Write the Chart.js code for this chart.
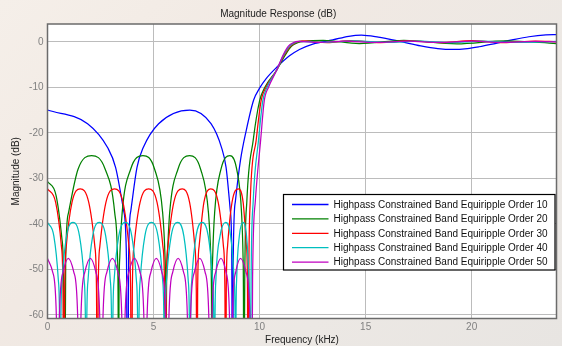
<!DOCTYPE html>
<html>
<head>
<meta charset="utf-8">
<script src="https://cdn.jsdelivr.net/npm/chart.js@4.4.1/dist/chart.umd.min.js"></script>
<style>
  html, body { margin: 0; padding: 0; }
  body {
    width: 562px; height: 346px; overflow: hidden;
    background: linear-gradient(135deg, #f5efe9 0%, #f1e9e3 35%, #ece8e4 70%, #e8e5e2 100%);
  }
  canvas { display: block; }
</style>
</head>
<body>
<canvas id="myChart" width="562" height="346"></canvas>
<script>
const freqTicks = [0, 5, 10, 15, 20];
const magTicks = [0, -10, -20, -30, -40, -50, -60];

const seriesLabels = [
  "Highpass Constrained Band Equiripple Order 10",
  "Highpass Constrained Band Equiripple Order 20",
  "Highpass Constrained Band Equiripple Order 30",
  "Highpass Constrained Band Equiripple Order 40",
  "Highpass Constrained Band Equiripple Order 50",
];
const seriesColors = ["#0000ff", "#008000", "#ff0000", "#00bfbf", "#bf00bf"];

// [frequency kHz, magnitude dB] (nulls pushed below the axis)
const order10 = [
  [0, -15], [1.89, -18], [2.84, -23.3], [3.21, -27.6], [3.59, -37.1], [3.723, -47.6], [3.78, -95],
  [3.824, -47.6], [3.93, -37.1], [4.22, -27.6], [4.51, -23.3], [5.24, -18], [6.71, -15], [7.71, -18], [8.21, -23.3],
  [8.42, -27.6], [8.62, -37.1], [8.69, -47.6], [8.72, -95],
  [8.76, -47], [8.86, -35], [9.1, -26], [9.37, -19.5], [9.72, -12.8], [10.0, -10.2], [10.31, -8.1], [10.81, -5.6],
  [11.41, -3.1], [11.88, -1.7], [12.51, -0.5], [13.45, 0.4], [14.2, 1.2], [14.8, 1.45], [15.6, 1.0],
  [16.6, 0.1], [17.6, -0.9], [18.4, -1.5], [19.1, -1.7], [19.8, -1.5], [20.35, -1.1], [21.1, -0.4],
  [21.9, 0.4], [22.7, 1.1], [23.5, 1.5], [24, 1.55],
];
const order20 = [
  [0, -30.7], [0.4, -33.7], [0.68, -43.3], [0.76, -52.8], [0.8, -95],
  [0.86, -47.1], [0.99, -37.6], [1.44, -28], [2.08, -25], [2.72, -28], [3.17, -37.6], [3.3, -47.1], [3.33, -57.6], [3.35, -95],
  [3.37, -57.6], [3.41, -47.1], [3.52, -37.6], [3.92, -28], [4.5, -25], [5.05, -28], [5.43, -37.6], [5.54, -47.1], [5.573, -57.6], [5.59, -95],
  [5.607, -57.6], [5.65, -47.1], [5.76, -37.6], [6.15, -28], [6.7, -25], [7.22, -28], [7.59, -37.6], [7.7, -47.1], [7.734, -57.6], [7.75, -95],
  [7.763, -57.6], [7.79, -47.1], [7.88, -37.6], [8.18, -28], [8.6, -25], [8.92, -28], [9.15, -37.6], [9.22, -47.1], [9.24, -57.6], [9.25, -95],
  [9.3, -52], [9.4, -35], [9.7, -21.6], [10.0, -13], [10.25, -10], [10.81, -6.2], [11.2, -3], [11.5, -1], [11.8, -0.2],
  [12.1, 0.1], [13, 0.3], [14.7, -0.4], [16.8, 0.3], [19.3, -0.45], [21.6, 0.2], [24, -0.4],
];
const order30 = [
  [0, -32.3], [0.385, -35.3], [0.655, -44.9], [0.73, -54.4], [0.77, -95],
  [0.81, -54.4], [0.885, -44.9], [1.155, -35.3], [1.54, -32.3], [1.945, -35.3], [2.23, -44.9], [2.31, -54.4], [2.35, -95],
  [2.39, -54.4], [2.47, -44.9], [2.755, -35.3], [3.16, -32.3], [3.56, -35.3], [3.84, -44.9], [3.92, -54.4], [3.96, -95],
  [4.0, -54.4], [4.08, -44.9], [4.365, -35.3], [4.77, -32.3], [5.165, -35.3], [5.44, -44.9], [5.52, -54.4], [5.56, -95],
  [5.6, -54.4], [5.68, -44.9], [5.955, -35.3], [6.35, -32.3], [6.7, -35.3], [6.945, -44.9], [7.015, -54.4], [7.05, -95],
  [7.08, -54.4], [7.15, -44.9], [7.375, -35.3], [7.7, -32.3], [8.05, -35.3], [8.295, -44.9], [8.365, -54.4], [8.4, -95],
  [8.43, -54.4], [8.49, -44.9], [8.7, -35.3], [9.0, -32.3], [9.225, -35.3], [9.38, -44.9], [9.43, -54.4], [9.45, -95],
  [9.49, -52], [9.56, -35], [9.84, -21.6], [10.07, -13], [10.3, -10], [10.81, -6.2], [11.15, -3], [11.45, -1], [11.7, -0.2],
  [12, 0.2], [13.2, -0.2], [14.3, 0.25], [15.7, -0.2], [17, 0.2], [18.6, -0.2], [20, 0.25], [21.5, -0.2], [23, 0.15], [24, 0],
];
const order40 = [
  [0, -39.7], [0.3, -42.7], [0.51, -52.3], [0.57, -61.8], [0.6, -95],
  [0.63, -61.8], [0.69, -52.3], [0.9, -42.7], [1.2, -39.7], [1.51, -42.7], [1.727, -52.3], [1.789, -61.8], [1.82, -95],
  [1.851, -61.8], [1.913, -52.3], [2.13, -42.7], [2.44, -39.7], [2.745, -42.7], [2.959, -52.3], [3.02, -61.8], [3.05, -95],
  [3.081, -61.8], [3.143, -52.3], [3.36, -42.7], [3.67, -39.7], [3.975, -42.7], [4.189, -52.3], [4.25, -61.8], [4.28, -95],
  [4.311, -61.8], [4.373, -52.3], [4.59, -42.7], [4.9, -39.7], [5.21, -42.7], [5.427, -52.3], [5.489, -61.8], [5.52, -95],
  [5.551, -61.8], [5.613, -52.3], [5.83, -42.7], [6.14, -39.7], [6.43, -42.7], [6.633, -52.3], [6.691, -61.8], [6.72, -95],
  [6.749, -61.8], [6.805, -52.3], [7.005, -42.7], [7.29, -39.7], [7.58, -42.7], [7.783, -52.3], [7.841, -61.8], [7.87, -95],
  [7.897, -61.8], [7.94, -52.3], [8.135, -42.7], [8.4, -39.7], [8.635, -42.7], [8.8, -52.3], [8.847, -61.8], [8.87, -95],
  [8.888, -61.8], [8.918, -52.3], [9.045, -42.7], [9.22, -39.7], [9.385, -42.7], [9.5, -52.3], [9.534, -61.8], [9.55, -95],
  [9.6, -52], [9.7, -35], [9.95, -21.6], [10.15, -13], [10.35, -10], [10.81, -6.2], [11.12, -3], [11.4, -1], [11.65, -0.2],
  [11.9, 0.1], [13, -0.15], [14.5, 0.2], [16, -0.15], [17.5, 0.15], [19, -0.2], [20.5, 0.15], [22, -0.15], [24, 0.1],
];
const order50 = [
  [0, -47.6], [0.245, -50.6], [0.417, -60.2], [0.49, -95],
  [0.563, -60.2], [0.735, -50.6], [0.98, -47.6], [1.24, -50.6], [1.422, -60.2], [1.5, -95],
  [1.578, -60.2], [1.76, -50.6], [2.02, -47.6], [2.28, -50.6], [2.462, -60.2], [2.54, -95],
  [2.618, -60.2], [2.8, -50.6], [3.06, -47.6], [3.32, -50.6], [3.502, -60.2], [3.58, -95],
  [3.658, -60.2], [3.84, -50.6], [4.1, -47.6], [4.36, -50.6], [4.542, -60.2], [4.62, -95],
  [4.697, -60.2], [4.875, -50.6], [5.13, -47.6], [5.39, -50.6], [5.572, -60.2], [5.65, -95],
  [5.727, -60.2], [5.905, -50.6], [6.16, -47.6], [6.415, -50.6], [6.594, -60.2], [6.67, -95],
  [6.747, -60.2], [6.925, -50.6], [7.18, -47.6], [7.43, -50.6], [7.605, -60.2], [7.68, -95],
  [7.755, -60.2], [7.93, -50.6], [8.18, -47.6], [8.415, -50.6], [8.58, -60.2], [8.65, -95],
  [8.718, -60.2], [8.875, -50.6], [9.1, -47.6], [9.36, -50.6], [9.542, -60.2], [9.62, -95],
  [9.67, -52], [9.8, -35], [10.05, -21.6], [10.22, -13], [10.42, -10], [10.81, -6.2], [11.1, -3], [11.35, -1], [11.6, -0.2],
  [11.8, 0.1], [12.8, -0.15], [14, 0.15], [15.5, -0.15], [17, 0.15], [18.5, -0.15], [20, 0.15], [21.5, -0.15], [23, 0.1], [24, 0],
];

const allSeries = [order10, order20, order30, order40, order50];
const fontFamily = "'Liberation Sans', Arial, Helvetica, sans-serif";

// white axes box, dark frame and a MATLAB style legend inside the plot
const axesBox = {
  id: "axesBox",
  beforeDraw(chart) {
    const { ctx, chartArea: a } = chart;
    ctx.save();
    ctx.fillStyle = "#ffffff";
    ctx.fillRect(a.left, a.top, a.right - a.left, a.bottom - a.top);
    ctx.restore();
  },
  afterDraw(chart) {
    const { ctx, chartArea: a } = chart;
    ctx.save();
    ctx.strokeStyle = "#6b6b6b";
    ctx.lineWidth = 1.5;
    ctx.strokeRect(a.left, a.top, a.right - a.left, a.bottom - a.top);

    const boxLeft = a.right - 273;
    const boxTop = a.top + 170.5;
    const boxW = 271.5;
    const boxH = 75.5;
    ctx.fillStyle = "#ffffff";
    ctx.fillRect(boxLeft, boxTop, boxW, boxH);
    ctx.strokeStyle = "#000000";
    ctx.lineWidth = 1.2;
    ctx.strokeRect(boxLeft, boxTop, boxW, boxH);

    ctx.font = "10px " + fontFamily;
    ctx.textBaseline = "middle";
    ctx.textAlign = "left";
    chart.data.datasets.forEach((ds, i) => {
      const y = boxTop + 10 + i * 14.4;
      ctx.strokeStyle = ds.borderColor;
      ctx.lineWidth = 1.3;
      ctx.beginPath();
      ctx.moveTo(boxLeft + 8.5, y);
      ctx.lineTo(boxLeft + 45, y);
      ctx.stroke();
      ctx.fillStyle = "#111111";
      ctx.fillText(ds.label, boxLeft + 50, y + 0.5);
    });
    ctx.restore();
  },
};

function drawChart() {
  const ctx = document.getElementById("myChart").getContext("2d");
  const datasets = allSeries.map((pts, i) => ({
    label: seriesLabels[i],
    data: pts.map((p) => ({ x: p[0], y: p[1] })),
    borderColor: seriesColors[i],
    borderWidth: 1.25,
    pointRadius: 0,
    fill: false,
    cubicInterpolationMode: "monotone",
    order: allSeries.length - i,
  }));

  new Chart(ctx, {
    type: "line",
    data: { datasets: datasets },
    plugins: [axesBox],
    options: {
      responsive: false,
      animation: false,
      devicePixelRatio: 1,
      layout: { padding: { left: 0, right: 5.5, top: 0, bottom: 0 } },
      elements: { line: { capBezierPoints: false } },
      plugins: {
        legend: { display: false },
        tooltip: { enabled: false },
        title: {
          display: true,
          text: "Magnitude Response (dB)",
          color: "#222222",
          font: { family: fontFamily, size: 10, weight: "normal" },
          padding: { top: 8, bottom: 4 },
        },
      },
      scales: {
        x: {
          type: "linear",
          min: 0,
          max: 24,
          afterBuildTicks: (scale) => { scale.ticks = freqTicks.map((v) => ({ value: v })); },
          afterFit: (scale) => { scale.height = 27.5; },
          border: { display: false },
          grid: { color: "#bcbcbc", lineWidth: 1, drawTicks: false },
          ticks: { color: "#808080", padding: 3, font: { family: fontFamily, size: 10 } },
          title: {
            display: true,
            text: "Frequency (kHz)",
            color: "#222222",
            font: { family: fontFamily, size: 10 },
            padding: { top: 0, bottom: 0 },
          },
        },
        y: {
          type: "linear",
          min: -60.8,
          max: 3.9,
          afterBuildTicks: (scale) => { scale.ticks = magTicks.map((v) => ({ value: v })); },
          afterFit: (scale) => { scale.width = 47.5; },
          border: { display: false },
          grid: { color: "#bcbcbc", lineWidth: 1, drawTicks: false },
          ticks: { color: "#808080", padding: 4, font: { family: fontFamily, size: 10 } },
          title: {
            display: true,
            text: "Magnitude (dB)",
            color: "#222222",
            font: { family: fontFamily, size: 10 },
            padding: { top: 10.5, bottom: 0 },
          },
        },
      },
    },
  });
}

drawChart();
</script>
</body>
</html>
